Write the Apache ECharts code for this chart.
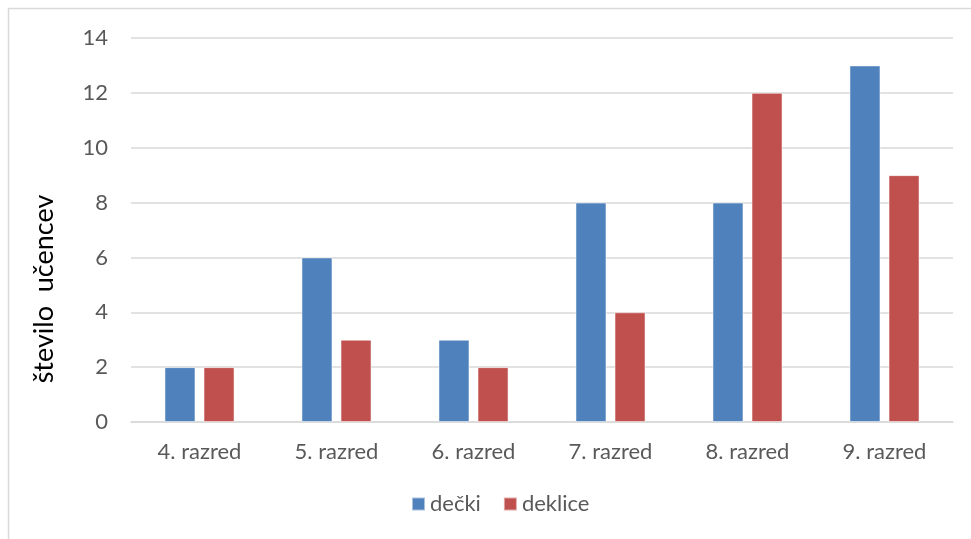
<!DOCTYPE html>
<html>
<head>
<meta charset="utf-8">
<script src="https://cdn.jsdelivr.net/npm/echarts@6/dist/echarts.min.js"></script>
<style>
  html, body { margin: 0; padding: 0; background: #fff; }
  #chart { width: 971px; height: 539px; }
</style>
</head>
<body>
<div id="chart"></div>
<script>
// Number of pupils per grade, boys and girls
const categories = ['4. razred', '5. razred', '6. razred', '7. razred', '8. razred', '9. razred'];
const decki = [2, 6, 3, 8, 8, 13];
const deklice = [2, 3, 2, 4, 12, 9];
const yTicks = [0, 2, 4, 6, 8, 10, 12, 14];
const yTitle = 'število  učencev';

const FONT = 'Lato, "Open Sans", sans-serif';
const TEXT = '#595959';

const chart = echarts.init(document.getElementById('chart'), null, { renderer: 'canvas' });

chart.setOption({
  backgroundColor: '#ffffff',
  animation: false,
  graphic: [
    {
      type: 'rect',
      shape: { x: 8.5, y: 8.5, width: 1000, height: 600 },
      style: { fill: 'none', stroke: '#d9d9d9', lineWidth: 1.5 },
      silent: true,
      z: -1
    },
    {
      type: 'text',
      x: 44,
      y: 289,
      rotation: Math.PI / 2,
      style: {
        text: yTitle,
        fontFamily: FONT,
        fontSize: 27,
        fill: '#000000',
        align: 'center',
        verticalAlign: 'middle'
      },
      silent: true
    }
  ],
  grid: { left: 131, right: 18, top: 38, bottom: 117 },
  legend: {
    data: ['dečki', 'deklice'],
    bottom: 19,
    left: 406,
    itemWidth: 13,
    itemHeight: 13,
    itemGap: 22,
    icon: 'rect',
    textStyle: { fontFamily: FONT, fontSize: 22, color: TEXT, padding: [0, 0, 0, 0] }
  },
  xAxis: {
    type: 'category',
    data: categories,
    axisLine: { show: true, lineStyle: { color: '#d9d9d9', width: 1.5 } },
    axisTick: { show: false },
    axisLabel: { fontFamily: FONT, fontSize: 22, color: TEXT, margin: 19 }
  },
  yAxis: {
    type: 'value',
    min: yTicks[0],
    max: yTicks[yTicks.length - 1],
    interval: 2,
    axisLine: { show: false },
    axisTick: { show: false },
    splitLine: { lineStyle: { color: '#d9d9d9', width: 1.5 } },
    axisLabel: { fontFamily: FONT, fontSize: 22, color: TEXT, margin: 23 }
  },
  series: [
    {
      name: 'dečki',
      type: 'bar',
      data: decki,
      barWidth: 31,
      barGap: '26%',
      itemStyle: { color: '#4f81bd', borderColor: 'rgba(255,255,255,0.5)', borderWidth: 1 }
    },
    {
      name: 'deklice',
      type: 'bar',
      data: deklice,
      barWidth: 31,
      itemStyle: { color: '#c0504d', borderColor: 'rgba(255,255,255,0.5)', borderWidth: 1 }
    }
  ]
});
</script>
</body>
</html>
